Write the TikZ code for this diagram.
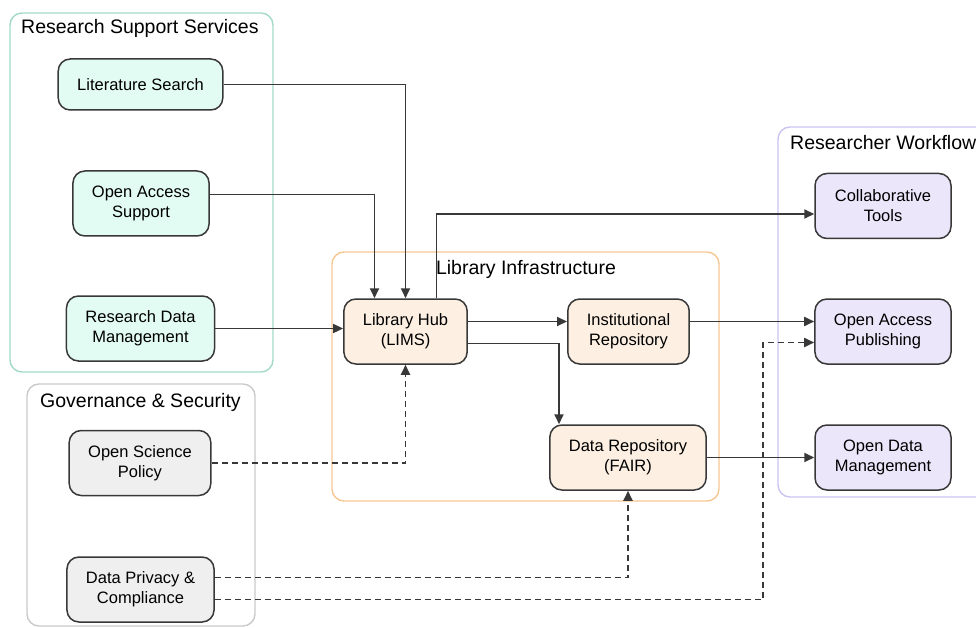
\documentclass[tikz,border=0pt]{standalone}
\usepackage{fontspec}
\setmainfont{Liberation Sans}
\usetikzlibrary{arrows.meta}

\definecolor{lineclr}{HTML}{383838}
\definecolor{mint}{HTML}{E2FBF3}
\definecolor{peach}{HTML}{FDF0E3}
\definecolor{lilac}{HTML}{ECE6FB}
\definecolor{light}{HTML}{EFEFEF}
\definecolor{tealedge}{HTML}{A3DAC6}
\definecolor{orangeedge}{HTML}{F7C793}
\definecolor{lilacedge}{HTML}{CBC3F0}
\definecolor{grayedge}{HTML}{CACACA}

\begin{document}
\begin{tikzpicture}[x=1pt,y=-1pt,
 box/.style={draw=lineclr,line width=1.5pt,rounded corners=12pt,align=center,
  minimum height=65pt,inner xsep=19pt,font=\fontsize{16.5}{20}\selectfont},
 grp/.style={line width=1.4pt,rounded corners=12pt},
 ttl/.style={inner sep=0pt,font=\fontsize{19.5}{23}\selectfont},
 flow/.style={draw=lineclr,line width=1.8pt,-{Triangle[length=10pt,width=9pt]}},
 ctrl/.style={flow,dash pattern=on 6pt off 4pt}]

\useasboundingbox (0,0) rectangle (976,628);

%groups
\draw[grp,draw=tealedge] (10,13) rectangle (273,372);
\draw[grp,draw=grayedge] (27,384) rectangle (255,626);
\draw[grp,draw=orangeedge] (332,252) rectangle (719,501);
\draw[grp,draw=lilacedge] (778,127) rectangle (995,497);
\node[ttl,anchor=west] (rss) at (21,28) {Research Support Services};
\node[ttl,anchor=west] (gs) at (40,402) {Governance \& Security};
\node[ttl] (li) at (526,269) {Library Infrastructure};
\node[ttl,anchor=west] (rw) at (790,143) {Researcher Workflow};

%services
\node[box,fill=mint,minimum height=51pt] (lit) at (140.5,84.5) {Literature Search};
\node[box,fill=mint] (oas) at (141,203.5) {Open Access\\Support};
\node[box,fill=mint] (rdm) at (140.5,328.5) {Research Data\\Management};

%governance
\node[box,fill=light] (osp) at (140,463) {Open Science\\Policy};
\node[box,fill=light] (dpc) at (140.5,589.5) {Data Privacy \&\\Compliance};

%library
\node[box,fill=peach] (hub) at (405.5,331.5) {Library Hub\\(LIMS)};
\node[box,fill=peach] (inst) at (628.5,331.5) {Institutional\\Repository};
\node[box,fill=peach] (data) at (628,457.5) {Data Repository\\(FAIR)};

%workflow
\node[box,fill=lilac,minimum width=136pt] (collab) at (883,206) {Collaborative\\Tools};
\node[box,fill=lilac,minimum width=136pt] (oap) at (883,331.5) {Open Access\\Publishing};
\node[box,fill=lilac,minimum width=136pt] (odm) at (883,457.5) {Open Data\\Management};

%links
\draw[flow] (lit) -| (hub);
\draw[flow] ([yshift=9pt]oas.east) -| ([xshift=-31pt]hub.north);
\draw[flow] (rdm.east) -- (rdm.east -| hub.west);
\draw[flow] ([xshift=31pt]hub.north) |- ([yshift=-8pt]collab.west);
\draw[flow] ([yshift=10pt]hub.east) -- ([yshift=10pt]inst.west);
\draw[flow] ([yshift=-12pt]hub.east) -| ([xshift=-69pt]data.north);
\draw[flow] ([yshift=10pt]inst.east) -- ([yshift=10pt]oap.west);
\draw[flow] (data) -- (odm);
\draw[ctrl] (osp) -| (hub);
\draw[ctrl] ([yshift=12pt]dpc.east) -| (data);
\draw[ctrl] ([yshift=-10pt]dpc.east) -- ++(548,0) |- ([yshift=-11pt]oap.west);

\end{tikzpicture}
\end{document}
